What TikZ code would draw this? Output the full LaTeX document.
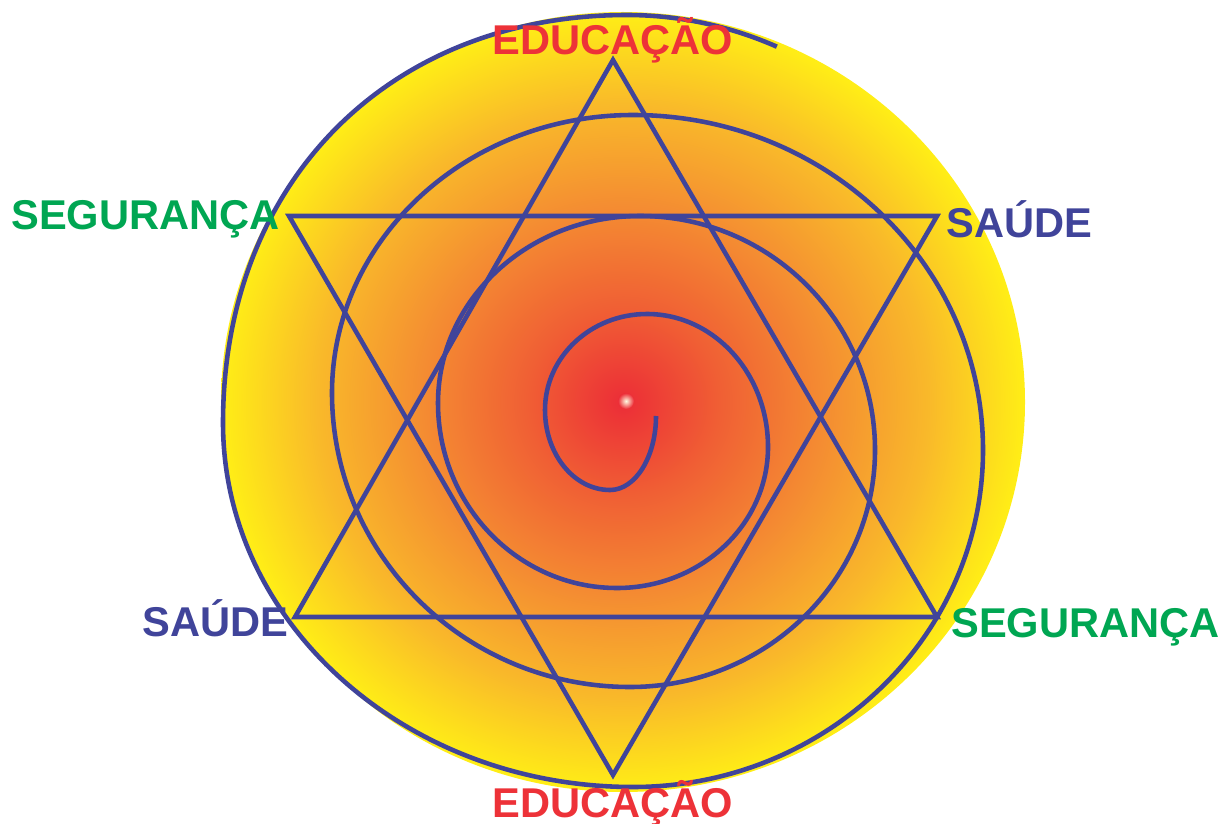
\documentclass[tikz,border=0pt]{standalone}
\usepackage{fontspec}
\setmainfont{Liberation Sans}
\definecolor{starBlue}{RGB}{64,68,154}
\definecolor{eduRed}{RGB}{237,50,56}
\definecolor{segGreen}{RGB}{0,166,82}
\definecolor{sunRed}{RGB}{236,45,55}
\definecolor{sunRedOrange}{RGB}{240,95,52}
\definecolor{sunOrange}{RGB}{244,140,50}
\definecolor{sunAmber}{RGB}{249,185,42}
\definecolor{sunYellow}{RGB}{255,238,22}
\definecolor{glowCore}{RGB}{255,250,225}
\pgfdeclareradialshading{sunglow}{\pgfpoint{0bp}{0bp}}{color(0bp)=(sunRed); color(6bp)=(sunRedOrange); color(12.5bp)=(sunOrange); color(19bp)=(sunAmber); color(25bp)=(sunYellow); color(50bp)=(sunYellow)}
\tikzset{
  starline/.style={draw=starBlue, line width=2.6pt, line join=miter},
  wordlabel/.style={font=\fontsize{23.7}{28}\selectfont\bfseries, inner sep=0pt},
}
\begin{document}
\begin{tikzpicture}[x=0.02cm, y=-0.02cm]
  \useasboundingbox (0,0) rectangle (1226,824);
  % sun disc
  \shade[shading=sunglow] (623,402) ellipse[x radius=402, y radius=390];
  \shade[inner color=glowCore, outer color=sunRed] (626,401) circle[radius=8];

  % star corners
  \coordinate (upTop) at (613,60);
  \coordinate (upLeft) at (295,617);
  \coordinate (upRight) at (937,617);
  \coordinate (dnLeft) at (289,216);
  \coordinate (dnRight) at (937,216);
  \coordinate (dnBottom) at (613,775);
  \draw[starline] (upTop) -- (upLeft) -- (upRight) -- cycle;
  \draw[starline] (dnLeft) -- (dnRight) -- (dnBottom) -- cycle;

  % spiral, quarter by quarter
  \draw[starline] (656,416)
    arc[start angle=0, end angle=90, x radius=46, y radius=74]
    arc[start angle=90, end angle=180, x radius=65, y radius=80]
    arc[start angle=180, end angle=270, x radius=102, y radius=96]
    arc[start angle=270, end angle=360, x radius=121, y radius=133]
    arc[start angle=0, end angle=90, x radius=151, y radius=141]
    arc[start angle=90, end angle=180, x radius=179, y radius=185]
    arc[start angle=180, end angle=270, x radius=202, y radius=187]
    arc[start angle=270, end angle=360, x radius=235, y radius=234]
    arc[start angle=0, end angle=90, x radius=245, y radius=237]
    arc[start angle=90, end angle=180, x radius=298, y radius=294]
    arc[start angle=180, end angle=270, x radius=301, y radius=278]
    arc[start angle=270, end angle=360, x radius=350, y radius=335]
    arc[start angle=0, end angle=90, x radius=350, y radius=337]
    arc[start angle=90, end angle=180, x radius=410, y radius=364]
    .. controls (223,182) and (389,15) .. (627,15)
    arc[start angle=270, end angle=292, x radius=400, y radius=435];

  % words
  \node[wordlabel, text=eduRed, anchor=base west] (eduTop) at (492,55) {EDUCAÇÃO};
  \node[wordlabel, text=eduRed, anchor=base west] (eduBottom) at (492,817) {EDUCAÇÃO};
  \node[wordlabel, text=segGreen, anchor=base west] (segLeft) at (11,230) {SEGURANÇA};
  \node[wordlabel, text=segGreen, anchor=base west] (segRight) at (951,637) {SEGURANÇA};
  \node[wordlabel, text=starBlue, anchor=base west] (saudeRight) at (946,237) {SAÚDE};
  \node[wordlabel, text=starBlue, anchor=base east] (saudeLeft) at (289,636) {SAÚDE};
\end{tikzpicture}
\end{document}
